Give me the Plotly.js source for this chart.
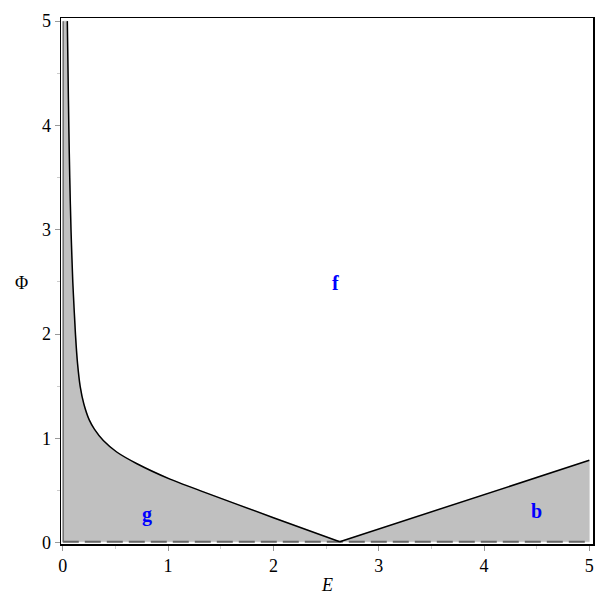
<!DOCTYPE html>
<html>
<head>
<meta charset="utf-8">
<script src="https://cdn.plot.ly/plotly-3.0.1.min.js"></script>
<style>
  body { margin: 0; background: #fff; }
  #plotContainer { width: 606px; height: 606px; }
</style>
</head>
<body>
<div id="plotContainer"></div>
<script>
// boundary curve, left branch
var leftE = [0.043, 0.05, 0.057, 0.066, 0.078, 0.095, 0.12, 0.14, 0.165, 0.2, 0.25, 0.3, 0.385, 0.512, 0.70, 1.018, 1.303, 2.0, 2.63];
var leftPhi = [5.0, 4.5, 4.0, 3.5, 3.0, 2.5, 2.0, 1.72, 1.5, 1.33, 1.18, 1.09, 0.98, 0.87, 0.76, 0.61, 0.50, 0.24, 0.01];
// right branch
var rightE = [2.63, 3.96, 5.0];
var rightPhi = [0.01, 0.447, 0.79];

var baseE = [0, 5];
var basePhi = [0.01, 0.01];

var edgeE = [0.004, 0.004];
var edgePhi = [0.01, 5.0];

var regionLabels = ["f", "g", "b"];
var regionE = [2.59, 0.8, 4.5];
var regionPhi = [2.49, 0.27, 0.30];

var tickVals = [0, 1, 2, 3, 4, 5];

var serif = "Liberation Serif, Times New Roman, serif";

// polygon for the shaded region
var fillE = [0].concat(leftE, rightE.slice(1), [5, 0]);
var fillPhi = [5].concat(leftPhi, rightPhi.slice(1), [0.01, 0.01]);

var shade = {
  x: fillE, y: fillPhi,
  mode: "lines", type: "scatter",
  fill: "toself", fillcolor: "#c0c0c0",
  line: { color: "#c0c0c0", width: 0.5 },
  hoverinfo: "skip",
};

var leftEdge = {
  x: edgeE, y: edgePhi,
  mode: "lines", type: "scatter",
  line: { color: "#707070", width: 1.5 },
};

var curveLeft = {
  x: leftE, y: leftPhi,
  mode: "lines", type: "scatter",
  line: { color: "black", width: 1.5, shape: "spline", smoothing: 0.5 },
};

var curveRight = {
  x: rightE, y: rightPhi,
  mode: "lines", type: "scatter",
  line: { color: "black", width: 1.5 },
};

var baseline = {
  x: baseE, y: basePhi,
  mode: "lines", type: "scatter",
  line: { color: "#666", width: 2, dash: "16px,6px" },
};

var axisCommon = {
  tickvals: tickVals,
  ticktext: tickVals.map(String),
  ticks: "outside",
  ticklen: 5,
  tickcolor: "#999",
  tickwidth: 1,
  showline: true,
  linecolor: "black",
  linewidth: 1.5,
  mirror: true,
  showgrid: false,
  zeroline: false,
  tickfont: { family: serif, size: 18, color: "black" },
  minor: { dtick: 0.5, ticks: "outside", ticklen: 3, tickcolor: "#ccc", showgrid: false },
};

var annotations = regionLabels.map(function (t, i) {
  return {
    x: regionE[i], y: regionPhi[i], text: "<b>" + t + "</b>",
    showarrow: false, xanchor: "center", yanchor: "middle",
    font: { family: serif, size: 20, color: "#0000ff" },
  };
});
annotations.push({
  xref: "paper", yref: "paper", x: 0.5, y: -0.078, text: "<i>E</i>",
  xanchor: "center", yanchor: "middle",
  showarrow: false, font: { family: serif, size: 18, color: "black" },
});
annotations.push({
  xref: "paper", yref: "paper", x: -0.074, y: 0.496, text: "Φ",
  xanchor: "center", yanchor: "middle",
  showarrow: false, font: { family: serif, size: 18, color: "black" },
});

var layout = {
  width: 606, height: 606,
  margin: { l: 61, r: 13, t: 18, b: 62 },
  paper_bgcolor: "white",
  plot_bgcolor: "white",
  showlegend: false,
  xaxis: Object.assign({}, axisCommon, { range: [-0.017, 5.035] }),
  yaxis: Object.assign({}, axisCommon, { range: [-0.012, 5.03] }),
  annotations: annotations,
};

Plotly.newPlot("plotContainer", [shade, leftEdge, baseline, curveLeft, curveRight], layout, { staticPlot: true });
</script>
</body>
</html>
